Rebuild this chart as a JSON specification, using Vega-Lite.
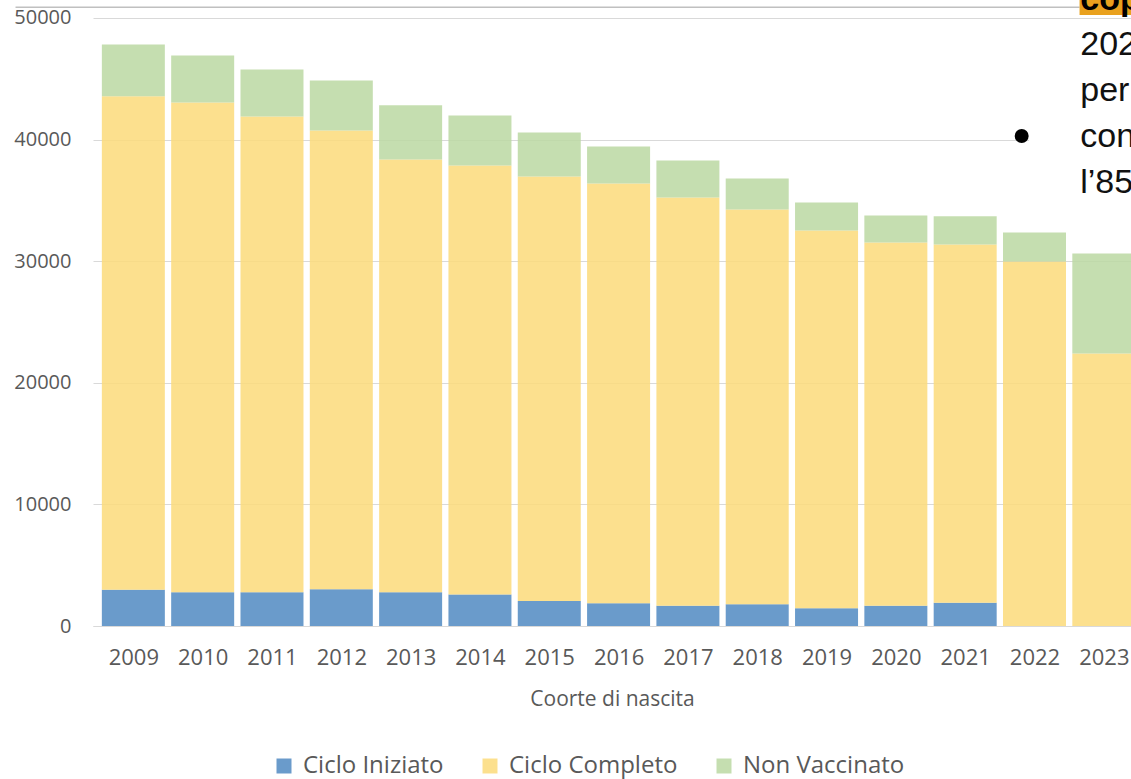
{
  "$schema": "https://vega.github.io/schema/vega-lite/v6.json",
  "width": 1038,
  "height": 626,
  "autosize": {"type": "none"},
  "padding": {"left": 93, "top": 0, "right": 0, "bottom": 153},
  "background": "white",
  "config": {"view": {"stroke": null}, "font": "Open Sans"},
  "layer": [
    {
      "data": {"values": [
        {"anno": 2009, "stato": "Ciclo Iniziato", "k": 0, "valore": 2980},
        {"anno": 2009, "stato": "Ciclo Completo", "k": 1, "valore": 40590},
        {"anno": 2009, "stato": "Non Vaccinato", "k": 2, "valore": 4250},
        {"anno": 2010, "stato": "Ciclo Iniziato", "k": 0, "valore": 2780},
        {"anno": 2010, "stato": "Ciclo Completo", "k": 1, "valore": 40270},
        {"anno": 2010, "stato": "Non Vaccinato", "k": 2, "valore": 3870},
        {"anno": 2011, "stato": "Ciclo Iniziato", "k": 0, "valore": 2780},
        {"anno": 2011, "stato": "Ciclo Completo", "k": 1, "valore": 39120},
        {"anno": 2011, "stato": "Non Vaccinato", "k": 2, "valore": 3870},
        {"anno": 2012, "stato": "Ciclo Iniziato", "k": 0, "valore": 3030},
        {"anno": 2012, "stato": "Ciclo Completo", "k": 1, "valore": 37720},
        {"anno": 2012, "stato": "Non Vaccinato", "k": 2, "valore": 4110},
        {"anno": 2013, "stato": "Ciclo Iniziato", "k": 0, "valore": 2780},
        {"anno": 2013, "stato": "Ciclo Completo", "k": 1, "valore": 35590},
        {"anno": 2013, "stato": "Non Vaccinato", "k": 2, "valore": 4450},
        {"anno": 2014, "stato": "Ciclo Iniziato", "k": 0, "valore": 2590},
        {"anno": 2014, "stato": "Ciclo Completo", "k": 1, "valore": 35280},
        {"anno": 2014, "stato": "Non Vaccinato", "k": 2, "valore": 4110},
        {"anno": 2015, "stato": "Ciclo Iniziato", "k": 0, "valore": 2060},
        {"anno": 2015, "stato": "Ciclo Completo", "k": 1, "valore": 34910},
        {"anno": 2015, "stato": "Non Vaccinato", "k": 2, "valore": 3620},
        {"anno": 2016, "stato": "Ciclo Iniziato", "k": 0, "valore": 1880},
        {"anno": 2016, "stato": "Ciclo Completo", "k": 1, "valore": 34510},
        {"anno": 2016, "stato": "Non Vaccinato", "k": 2, "valore": 3040},
        {"anno": 2017, "stato": "Ciclo Iniziato", "k": 0, "valore": 1660},
        {"anno": 2017, "stato": "Ciclo Completo", "k": 1, "valore": 33580},
        {"anno": 2017, "stato": "Non Vaccinato", "k": 2, "valore": 3040},
        {"anno": 2018, "stato": "Ciclo Iniziato", "k": 0, "valore": 1790},
        {"anno": 2018, "stato": "Ciclo Completo", "k": 1, "valore": 32460},
        {"anno": 2018, "stato": "Non Vaccinato", "k": 2, "valore": 2550},
        {"anno": 2019, "stato": "Ciclo Iniziato", "k": 0, "valore": 1460},
        {"anno": 2019, "stato": "Ciclo Completo", "k": 1, "valore": 31060},
        {"anno": 2019, "stato": "Non Vaccinato", "k": 2, "valore": 2310},
        {"anno": 2020, "stato": "Ciclo Iniziato", "k": 0, "valore": 1660},
        {"anno": 2020, "stato": "Ciclo Completo", "k": 1, "valore": 29880},
        {"anno": 2020, "stato": "Non Vaccinato", "k": 2, "valore": 2220},
        {"anno": 2021, "stato": "Ciclo Iniziato", "k": 0, "valore": 1910},
        {"anno": 2021, "stato": "Ciclo Completo", "k": 1, "valore": 29470},
        {"anno": 2021, "stato": "Non Vaccinato", "k": 2, "valore": 2310},
        {"anno": 2022, "stato": "Ciclo Iniziato", "k": 0, "valore": 0},
        {"anno": 2022, "stato": "Ciclo Completo", "k": 1, "valore": 29980},
        {"anno": 2022, "stato": "Non Vaccinato", "k": 2, "valore": 2380},
        {"anno": 2023, "stato": "Ciclo Iniziato", "k": 0, "valore": 0},
        {"anno": 2023, "stato": "Ciclo Completo", "k": 1, "valore": 22410},
        {"anno": 2023, "stato": "Non Vaccinato", "k": 2, "valore": 8220}
      ]},
      "mark": {"type": "bar", "width": 63, "orient": "vertical", "opacity": 0.85, "clip": true},
      "encoding": {
        "x": {
          "field": "anno", "type": "quantitative",
          "scale": {"domain": [2008.49, 2023.32], "nice": false, "zero": false},
          "axis": {
            "values": [2009, 2010, 2011, 2012, 2013, 2014, 2015, 2016, 2017, 2018, 2019, 2020, 2021, 2022, 2023],
            "format": "d", "title": "Coorte di nascita", "ticks": false, "tickSize": 0, "grid": false,
            "domainColor": "#d9d9d9", "labelPadding": 21, "labelFontSize": 22, "labelColor": "#595959",
            "labelFlush": false, "labelOverlap": false, "titleFontSize": 21, "titleFontWeight": "normal",
            "titleColor": "#595959", "titlePadding": 20
          }
        },
        "y": {
          "field": "valore", "type": "quantitative", "stack": "zero",
          "scale": {"domain": [0, 51480], "nice": false},
          "axis": {
            "values": [0, 10000, 20000, 30000, 40000, 50000], "format": "d", "title": null,
            "ticks": false, "domain": false, "labelPadding": 22, "labelFontSize": 20,
            "labelColor": "#595959", "gridColor": "#d9d9d9"
          }
        },
        "color": {
          "field": "stato", "type": "nominal",
          "scale": {"domain": ["Ciclo Iniziato", "Ciclo Completo", "Non Vaccinato"], "range": ["#5089C2", "#FCDB7A", "#BBD8A2"]},
          "legend": {
            "orient": "none", "legendX": 179, "legendY": 754, "direction": "horizontal", "title": null,
            "symbolType": "square", "symbolSize": 225, "labelFontSize": 24, "labelColor": "#595959",
            "labelLimit": 400, "columnPadding": 34, "labelOffset": 7
          }
        },
        "order": {"field": "k", "type": "quantitative"}
      }
    },
    {
      "data": {"values": [{}]},
      "mark": {"type": "rect", "color": "white", "clip": true},
      "encoding": {
        "x": {"datum": 2021.92, "type": "quantitative"},
        "x2": {"datum": 2024},
        "y": {"datum": 34150, "type": "quantitative"},
        "y2": {"datum": 49800}
      }
    },
    {
      "data": {"values": [{}]},
      "mark": {"type": "rule", "color": "#c0c0c0", "strokeWidth": 1.5},
      "encoding": {
        "x": {"datum": 2007.3, "type": "quantitative"},
        "x2": {"datum": 2022.65},
        "y": {"datum": 50880, "type": "quantitative"}
      }
    },
    {
      "data": {"values": [{}]},
      "mark": {"type": "rect", "color": "#E9A11E", "clip": true},
      "encoding": {
        "x": {"datum": 2022.65, "type": "quantitative"},
        "x2": {"datum": 2024},
        "y": {"datum": 50250, "type": "quantitative"},
        "y2": {"datum": 51480}
      }
    },
    {
      "data": {"values": [{}]},
      "mark": {"type": "text", "text": "cop", "font": "Liberation Sans", "fontWeight": "bold", "fontSize": 34, "align": "left", "baseline": "alphabetic", "color": "black", "clip": true},
      "encoding": {
        "x": {"datum": 2022.66, "type": "quantitative"},
        "y": {"datum": 50650, "type": "quantitative"}
      }
    },
    {
      "data": {"values": [{}]},
      "mark": {"type": "text", "text": ["202", "per", "con", "l’85"], "lineHeight": 46, "font": "Liberation Sans", "fontSize": 34, "align": "left", "baseline": "alphabetic", "color": "#111111", "clip": true},
      "encoding": {
        "x": {"datum": 2022.66, "type": "quantitative"},
        "y": {"datum": 46960, "type": "quantitative"}
      }
    },
    {
      "data": {"values": [{}]},
      "mark": {"type": "point", "filled": true, "color": "black", "opacity": 1, "size": 195},
      "encoding": {
        "x": {"datum": 2021.815, "type": "quantitative"},
        "y": {"datum": 40298, "type": "quantitative"}
      }
    }
  ]
}
